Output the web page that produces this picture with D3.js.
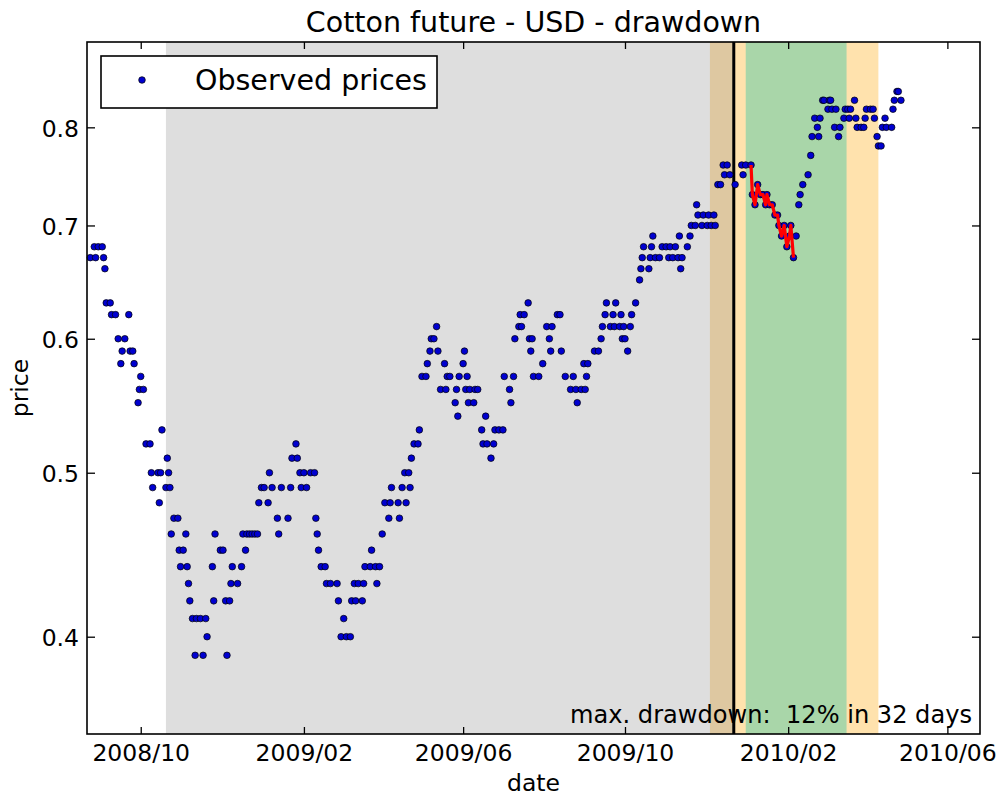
<!DOCTYPE html>
<html><head><meta charset="utf-8">
<script src="https://cdn.jsdelivr.net/npm/d3@7"></script>
<style>body{margin:0;background:#fff}</style>
</head><body>
<svg id="chart" width="1002" height="798"></svg>
<script>
const dates = [
"2008-08-24","2008-08-27","2008-08-28","2008-08-30","2008-09-02","2008-09-03","2008-09-04","2008-09-05","2008-09-08","2008-09-09",
"2008-09-12","2008-09-14","2008-09-16","2008-09-17","2008-09-19","2008-09-22","2008-09-23","2008-09-25","2008-09-26","2008-09-29",
"2008-09-30","2008-10-01","2008-10-03","2008-10-05","2008-10-08","2008-10-09","2008-10-10","2008-10-14","2008-10-15","2008-10-16",
"2008-10-17","2008-10-20","2008-10-21","2008-10-22","2008-10-23","2008-10-24","2008-10-26","2008-10-29","2008-10-30","2008-10-31",
"2008-11-02","2008-11-04","2008-11-05","2008-11-06","2008-11-07","2008-11-09","2008-11-11","2008-11-12","2008-11-15","2008-11-17",
"2008-11-19","2008-11-20","2008-11-24","2008-11-25","2008-11-26","2008-11-30","2008-12-02","2008-12-04","2008-12-05","2008-12-07",
"2008-12-08","2008-12-09","2008-12-13","2008-12-16","2008-12-17","2008-12-19","2008-12-20","2008-12-22","2008-12-24","2008-12-26",
"2008-12-28","2008-12-29","2008-12-31",
"2009-01-02","2009-01-05","2009-01-06","2009-01-08","2009-01-12","2009-01-13","2009-01-15","2009-01-20","2009-01-22","2009-01-23",
"2009-01-26","2009-01-27","2009-01-29","2009-01-30","2009-02-01","2009-02-03","2009-02-06","2009-02-09","2009-02-10","2009-02-11",
"2009-02-12","2009-02-14","2009-02-17","2009-02-18","2009-02-21","2009-02-26","2009-02-27","2009-03-01","2009-03-03","2009-03-05",
"2009-03-08","2009-03-09","2009-03-11","2009-03-12","2009-03-14","2009-03-17","2009-03-18","2009-03-19","2009-03-23","2009-03-24",
"2009-03-27","2009-03-28","2009-03-30","2009-04-01","2009-04-03","2009-04-06","2009-04-07","2009-04-08","2009-04-13","2009-04-14",
"2009-04-16","2009-04-18","2009-04-19","2009-04-21","2009-04-22","2009-04-23","2009-04-25","2009-04-28","2009-04-29","2009-05-01",
"2009-05-04","2009-05-05","2009-05-07","2009-05-08","2009-05-10","2009-05-12","2009-05-13","2009-05-15","2009-05-18","2009-05-19",
"2009-05-20","2009-05-22","2009-05-26","2009-05-27","2009-05-28","2009-05-29","2009-06-01","2009-06-02","2009-06-03","2009-06-04",
"2009-06-05","2009-06-06","2009-06-09","2009-06-10","2009-06-12","2009-06-15","2009-06-16","2009-06-18","2009-06-19","2009-06-22",
"2009-06-24","2009-06-25","2009-06-28","2009-07-01","2009-07-02","2009-07-06","2009-07-07","2009-07-09","2009-07-10","2009-07-13",
"2009-07-14","2009-07-15","2009-07-17","2009-07-20","2009-07-21","2009-07-22","2009-07-23","2009-07-24","2009-07-28","2009-07-31",
"2009-08-03","2009-08-05","2009-08-06","2009-08-07","2009-08-11","2009-08-13","2009-08-14","2009-08-17","2009-08-21","2009-08-23",
"2009-08-25","2009-08-26","2009-08-29","2009-08-31","2009-09-01","2009-09-02","2009-09-03","2009-09-08","2009-09-11","2009-09-13",
"2009-09-14","2009-09-16","2009-09-17","2009-09-20","2009-09-22","2009-09-23","2009-09-24","2009-09-27","2009-09-28","2009-09-29",
"2009-09-30","2009-10-01","2009-10-03","2009-10-05","2009-10-06","2009-10-09","2009-10-12","2009-10-13","2009-10-14","2009-10-15",
"2009-10-19","2009-10-20","2009-10-21","2009-10-22","2009-10-24","2009-10-27","2009-10-29","2009-11-01","2009-11-03","2009-11-04",
"2009-11-06","2009-11-08","2009-11-10","2009-11-11","2009-11-12","2009-11-13","2009-11-17","2009-11-19","2009-11-20","2009-11-23",
"2009-11-24","2009-11-25","2009-11-28","2009-11-29","2009-12-02","2009-12-03","2009-12-05","2009-12-07","2009-12-08","2009-12-10",
"2009-12-12","2009-12-14","2009-12-15","2009-12-17","2009-12-19","2009-12-23","2009-12-28","2009-12-29","2009-12-31",
"2010-01-04","2010-01-05","2010-01-07","2010-01-09","2010-01-11","2010-01-13","2010-01-15","2010-01-16","2010-01-18","2010-01-20",
"2010-01-22","2010-01-24","2010-01-25","2010-01-27","2010-01-29","2010-01-31","2010-02-02","2010-02-03","2010-02-05","2010-02-07",
"2010-02-09","2010-02-10","2010-02-12","2010-02-16","2010-02-18","2010-02-19","2010-02-21","2010-02-23","2010-02-24","2010-02-25",
"2010-02-27","2010-02-28","2010-03-03","2010-03-04","2010-03-05","2010-03-06","2010-03-08","2010-03-09","2010-03-11","2010-03-12",
"2010-03-15","2010-03-16","2010-03-18","2010-03-19","2010-03-20","2010-03-23","2010-03-24","2010-03-25","2010-03-28","2010-03-30",
"2010-03-31","2010-04-01","2010-04-04","2010-04-06","2010-04-07","2010-04-09","2010-04-10","2010-04-12","2010-04-13","2010-04-15",
"2010-04-16","2010-04-20","2010-04-21","2010-04-22","2010-04-24","2010-04-25","2010-04-27"
];
const prices = [
0.67,0.68,0.67,0.68,0.68,0.67,0.66,0.63,0.63,0.62,
0.62,0.60,0.58,0.59,0.60,0.62,0.59,0.59,0.58,0.55,
0.56,0.57,0.56,0.52,0.52,0.50,0.49,0.50,0.48,0.50,
0.53,0.49,0.51,0.50,0.49,0.46,0.47,0.47,0.45,0.44,
0.45,0.46,0.44,0.43,0.42,0.41,0.39,0.41,0.41,0.39,
0.41,0.40,0.44,0.42,0.46,0.45,0.45,0.42,0.39,0.42,
0.43,0.44,0.43,0.44,0.46,0.45,0.46,0.46,0.46,0.46,
0.46,0.48,0.49,
0.49,0.48,0.50,0.49,0.47,0.46,0.49,0.47,0.49,0.51,
0.52,0.51,0.50,0.49,0.50,0.49,0.50,0.50,0.47,0.46,
0.45,0.44,0.44,0.43,0.43,0.43,0.42,0.40,0.41,0.40,
0.40,0.42,0.43,0.42,0.43,0.42,0.43,0.44,0.44,0.45,
0.44,0.43,0.44,0.46,0.48,0.47,0.48,0.49,0.48,0.47,
0.49,0.50,0.48,0.50,0.49,0.51,0.52,0.52,0.53,0.57,
0.57,0.58,0.59,0.60,0.60,0.61,0.59,0.56,0.58,0.56,
0.57,0.57,0.55,0.56,0.54,0.57,0.58,0.59,0.56,0.57,
0.55,0.56,0.55,0.56,0.56,0.53,0.52,0.54,0.52,0.51,
0.52,0.53,0.53,0.53,0.57,0.56,0.55,0.57,0.60,0.61,
0.62,0.61,0.62,0.63,0.60,0.59,0.60,0.57,0.57,0.58,
0.61,0.60,0.59,0.61,0.62,0.62,0.59,0.57,0.56,0.57,
0.56,0.55,0.56,0.58,0.56,0.57,0.58,0.59,0.59,0.60,
0.61,0.62,0.63,0.61,0.62,0.61,0.63,0.61,0.62,0.60,
0.61,0.60,0.59,0.61,0.62,0.63,0.65,0.66,0.67,0.68,
0.66,0.67,0.68,0.69,0.67,0.67,0.68,0.68,0.67,0.68,
0.67,0.68,0.67,0.69,0.66,0.67,0.68,0.69,0.70,0.70,
0.72,0.71,0.70,0.71,0.70,0.71,0.70,0.71,0.70,0.74,
0.74,0.76,0.75,0.76,0.75,0.74,0.76,0.75,0.76,
0.76,0.73,0.72,0.74,0.73,0.73,0.72,0.73,0.72,0.72,
0.71,0.71,0.70,0.69,0.70,0.68,0.69,0.70,0.67,0.69,
0.72,0.73,0.74,0.75,0.77,0.79,0.81,0.80,0.79,0.81,
0.83,0.83,0.82,0.83,0.83,0.82,0.80,0.82,0.79,0.80,
0.81,0.82,0.82,0.81,0.82,0.83,0.81,0.80,0.80,0.80,
0.81,0.82,0.82,0.82,0.81,0.79,0.78,0.78,0.80,0.81,
0.80,0.80,0.82,0.83,0.84,0.84,0.83
];
const yTicks = [0.4, 0.5, 0.6, 0.7, 0.8];
const xTicks = ["2008-10-01","2009-02-01","2009-06-01","2009-10-01","2010-02-01","2010-06-01"];
const xDomain = ["2008-08-21T12:00","2010-06-25T14:00"];
const yDomain = [0.3504, 0.8985];
const graySpan = ["2008-10-20","2009-12-22"];
const orangeSpan = ["2009-12-04","2010-04-10"];
const greenSpan = ["2009-12-31","2010-03-17"];
const markerDate = "2009-12-22";
const drawdownStart = "2010-01-04";
const drawdownEnd = "2010-02-05";
const titleText = "Cotton future - USD - drawdown";
const legendText = "Observed prices";
const drawdownLabel = "max. drawdown:  12% in 32 days";
const xLabel = "date";
const yLabel = "price";

const FONT = "DejaVu Sans";
const L = 87, R = 980, T = 42, B = 734;
const pDate = d3.utcParse("%Y-%m-%d");
const pDT = d3.utcParse("%Y-%m-%dT%H:%M");
const data = dates.map((d, i) => ({date: pDate(d), price: prices[i]}));

const x = d3.scaleUtc().domain(xDomain.map(pDT)).range([L, R]);
const y = d3.scaleLog().domain(yDomain).range([B, T]);

const svg = d3.select("#chart");
svg.append("rect").attr("width", 1002).attr("height", 798).attr("fill", "#fff");

function span(s, fill, op) {
  svg.append("rect")
    .attr("x", x(pDate(s[0]))).attr("y", T)
    .attr("width", x(pDate(s[1])) - x(pDate(s[0]))).attr("height", B - T)
    .attr("fill", fill).attr("fill-opacity", op);
}
span(orangeSpan, "#ffa500", 0.32);
span(graySpan, "#808080", 0.26);
span(greenSpan, "#a9d6a9", 1);

svg.append("line")
  .attr("x1", x(pDate(markerDate))).attr("x2", x(pDate(markerDate)))
  .attr("y1", T).attr("y2", B)
  .attr("stroke", "#000").attr("stroke-width", 3);

svg.append("g").selectAll("circle").data(data).join("circle")
  .attr("cx", d => x(d.date)).attr("cy", d => y(d.price)).attr("r", 3.3)
  .attr("fill", "#0000d0").attr("stroke", "#000").attr("stroke-width", 0.7);

const dd = data.filter(d => d.date >= pDate(drawdownStart) && d.date <= pDate(drawdownEnd));
svg.append("path").datum(dd)
  .attr("d", d3.line().x(d => x(d.date)).y(d => y(d.price)))
  .attr("fill", "none").attr("stroke", "#ff0000").attr("stroke-width", 3.2)
  .attr("stroke-linejoin", "round");

// axes
const xt = xTicks.map(pDate);
const gB = svg.append("g").attr("transform", `translate(0,${B})`)
  .call(d3.axisBottom(x).tickValues(xt).tickSize(-7).tickFormat(d3.utcFormat("%Y/%m")));
const gTop = svg.append("g").attr("transform", `translate(0,${T})`)
  .call(d3.axisTop(x).tickValues(xt).tickSize(-7).tickFormat(""));
const gL = svg.append("g").attr("transform", `translate(${L},0)`)
  .call(d3.axisLeft(y).tickValues(yTicks).tickSize(-8).tickFormat(d3.format(".1f")));
const gR = svg.append("g").attr("transform", `translate(${R},0)`)
  .call(d3.axisRight(y).tickValues(yTicks).tickSize(-8).tickFormat(""));
[gB, gTop, gL, gR].forEach(g => {
  g.select(".domain").remove();
  g.selectAll(".tick line").attr("stroke", "#000").attr("stroke-width", 1.3);
  g.selectAll("text").attr("font-family", FONT).attr("font-size", 23.5).attr("fill", "#000");
});
gB.selectAll(".tick text").attr("y", 27).attr("dy", 0);
gL.selectAll(".tick text").attr("x", -8).attr("dy", "0.37em");

svg.append("rect").attr("x", L).attr("y", T).attr("width", R - L).attr("height", B - T)
  .attr("fill", "none").attr("stroke", "#000").attr("stroke-width", 1.6);

// texts
svg.append("text").attr("x", (L + R) / 2).attr("y", 31.5).attr("text-anchor", "middle")
  .attr("font-family", FONT).attr("font-size", 28.5).text(titleText);
svg.append("text").attr("x", (L + R) / 2).attr("y", 791).attr("text-anchor", "middle")
  .attr("font-family", FONT).attr("font-size", 23.5).text(xLabel);
svg.append("text").attr("transform", `translate(28,${(T + B) / 2}) rotate(-90)`)
  .attr("text-anchor", "middle").attr("font-family", FONT).attr("font-size", 23.5).text(yLabel);
svg.append("text").attr("x", 972).attr("y", 723).attr("text-anchor", "end")
  .style("white-space", "pre").attr("font-family", FONT).attr("font-size", 24.1).text(drawdownLabel);

// legend
const lg = svg.append("g");
lg.append("rect").attr("x", 101).attr("y", 56).attr("width", 336).attr("height", 52)
  .attr("fill", "#fff").attr("stroke", "#000").attr("stroke-width", 1.6);
lg.append("circle").attr("cx", 142).attr("cy", 80).attr("r", 3.3)
  .attr("fill", "#0000d0").attr("stroke", "#000").attr("stroke-width", 0.7);
lg.append("text").attr("x", 195).attr("y", 90).attr("font-family", FONT).attr("font-size", 28.5).text(legendText);
</script>
</body></html>
